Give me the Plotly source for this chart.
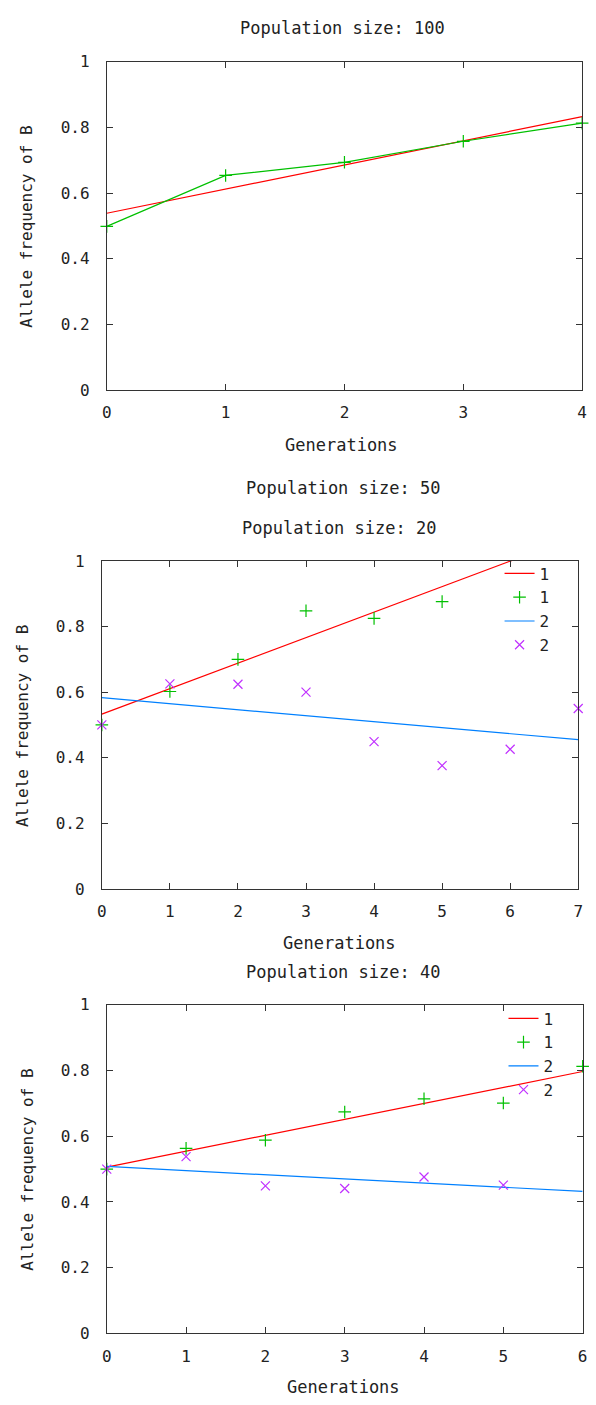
import plotly.graph_objects as go

# ---------------- data ----------------
# Panel: Population size 100
gen100 = [0, 1, 2, 3, 4]
freq100_run1 = [0.499, 0.654, 0.694, 0.758, 0.813]
fit100_x = [0, 4]
fit100_run1 = [0.539, 0.833]

# Panel: Population size 20
gen20_run1 = [0, 1, 2, 3, 4, 5]
freq20_run1 = [0.50, 0.602, 0.70, 0.848, 0.825, 0.876]
gen20_run2 = [0, 1, 2, 3, 4, 5, 6, 7]
freq20_run2 = [0.50, 0.625, 0.624, 0.60, 0.449, 0.376, 0.426, 0.55]
fit20_x = [0, 7]
fit20_run1 = [0.533, 1.077]
fit20_run2 = [0.583, 0.455]

# Panel: Population size 40
gen40_run1 = [0, 1, 2, 3, 4, 5, 6]
freq40_run1 = [0.50, 0.563, 0.588, 0.674, 0.714, 0.701, 0.813]
gen40_run2 = [0, 1, 2, 3, 4, 5]
freq40_run2 = [0.50, 0.538, 0.449, 0.441, 0.476, 0.451]
fit40_x = [0, 6]
fit40_run1 = [0.506, 0.797]
fit40_run2 = [0.508, 0.432]

titles = ["Population size: 100", "Population size: 50",
          "Population size: 20", "Population size: 40"]
x_title = "Generations"
y_title = "Allele frequency of B"
legend_names = ["1", "1", "2", "2"]

# ---------------- styling ----------------
W, H = 596, 1405
RED = "#ff0000"
GREEN = "#00c000"
BLUE = "#0080ff"
PURPLE = "#c030ff"
TXT = "#222222"
MONO = "DejaVu Sans Mono"

def px_x(p):
    return p / W

def px_y(p):
    return 1 - p / H

# plot boxes in pixels: (left, right, top, bottom)
boxes = [
    (103.5, 587.0, 53.5, 386.5),
    (98.5, 583.0, 559.5, 892.0),
    (103.5, 587.5, 1009.5, 1342.5),
]
xmax = [4, 7, 6]

fig = go.Figure()

def line_trace(x, y, color, ax, name, legend=None, show=False):
    return go.Scatter(x=x, y=y, mode="lines", name=name,
                      line=dict(color=color, width=1.2),
                      xaxis="x" + ax, yaxis="y" + ax,
                      showlegend=show, legend=legend, hoverinfo="skip")

def point_trace(x, y, color, symbol, ax, name, legend=None, show=False, mode="markers"):
    return go.Scatter(x=x, y=y, mode=mode, name=name,
                      line=dict(color=color, width=1.2),
                      marker=dict(symbol=symbol, size=9, color=color,
                                  line=dict(color=color, width=1.2)),
                      cliponaxis=False,
                      xaxis="x" + ax, yaxis="y" + ax,
                      showlegend=show, legend=legend, hoverinfo="skip")

# Panel 1
fig.add_trace(line_trace(fit100_x, fit100_run1, RED, "", "fit"))
fig.add_trace(point_trace(gen100, freq100_run1, GREEN, "cross-thin", "", "1",
                          mode="lines+markers"))

# Panel 2
fig.add_trace(line_trace(fit20_x, fit20_run1, RED, "2", legend_names[0], "legend", True))
fig.add_trace(point_trace(gen20_run1, freq20_run1, GREEN, "cross-thin", "2",
                          legend_names[1], "legend", True))
fig.add_trace(line_trace(fit20_x, fit20_run2, BLUE, "2", legend_names[2], "legend", True))
fig.add_trace(point_trace(gen20_run2, freq20_run2, PURPLE, "x-thin", "2",
                          legend_names[3], "legend", True))

# Panel 3
fig.add_trace(line_trace(fit40_x, fit40_run1, RED, "3", legend_names[0], "legend2", True))
fig.add_trace(point_trace(gen40_run1, freq40_run1, GREEN, "cross-thin", "3",
                          legend_names[1], "legend2", True))
fig.add_trace(line_trace(fit40_x, fit40_run2, BLUE, "3", legend_names[2], "legend2", True))
fig.add_trace(point_trace(gen40_run2, freq40_run2, PURPLE, "x-thin", "3",
                          legend_names[3], "legend2", True))

axis_common = dict(showgrid=False, zeroline=False, showline=True, mirror="ticks",
                   linecolor="#333333", linewidth=1, ticks="inside", ticklen=6,
                   tickcolor="#333333", tickwidth=1,
                   tickfont=dict(family=MONO, size=16, color=TXT),
                   fixedrange=True)

layout = dict(width=W, height=H, margin=dict(l=0, r=0, t=0, b=0),
              paper_bgcolor="white", plot_bgcolor="white", showlegend=True)

for i, (l, r, t, b) in enumerate(boxes):
    sfx = "" if i == 0 else str(i + 1)
    layout["xaxis" + sfx] = dict(axis_common, domain=[px_x(l), px_x(r)],
                                 range=[0, xmax[i]], dtick=1, tick0=0,
                                 ticklabelstandoff=8, anchor="y" + sfx)
    layout["yaxis" + sfx] = dict(axis_common, domain=[px_y(b), px_y(t)],
                                 range=[0, 1], dtick=0.2, tick0=0,
                                 ticklabelstandoff=13, anchor="x" + sfx)

leg_common = dict(bgcolor="rgba(0,0,0,0)", font=dict(family=MONO, size=16, color=TXT),
                  xanchor="left", yanchor="top", tracegroupgap=0,
                  itemclick=False, itemdoubleclick=False)
layout["legend"] = dict(leg_common, x=px_x(503), y=px_y(555))
layout["legend2"] = dict(leg_common, x=px_x(507), y=px_y(1006))

ann = []
title_pos = [(343.5, 19), (344, 485.5), (340, 526), (344, 976.5)]
for txt, (xp, yp) in zip(titles, title_pos):
    ann.append(dict(text=txt, x=px_x(xp), y=px_y(yp), xref="paper", yref="paper",
                    xanchor="center", yanchor="middle", showarrow=False,
                    font=dict(family=MONO, size=17, color=TXT)))
for xp, yp in [(342.5, 442), (340, 946.5), (344, 1397)]:
    ann.append(dict(text=x_title, x=px_x(xp), y=px_y(yp), xref="paper", yref="paper",
                    xanchor="center", yanchor="middle", showarrow=False,
                    font=dict(family=MONO, size=17, color=TXT)))
for xp, yp in [(21, 221), (17, 727), (22, 1177)]:
    ann.append(dict(text=y_title, x=px_x(xp), y=px_y(yp), xref="paper", yref="paper",
                    xanchor="center", yanchor="middle", showarrow=False, textangle=-90,
                    font=dict(family=MONO, size=16, color=TXT)))
layout["annotations"] = ann

fig.update_layout(**layout)
fig.write_html("out.html", config={"displayModeBar": False},
               post_script="document.body.style.margin='0';"
                           "document.body.style.overflow='hidden';")
